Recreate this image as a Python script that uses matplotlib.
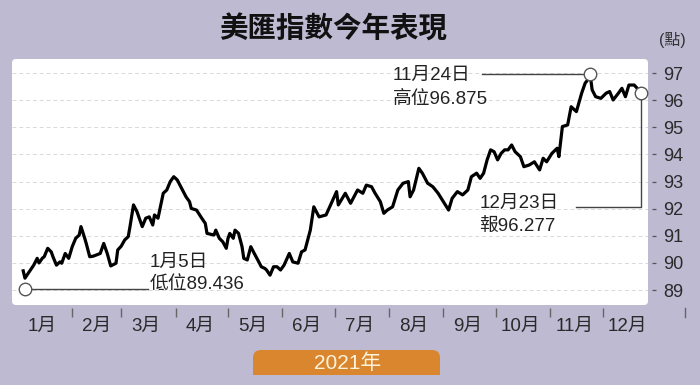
import matplotlib
matplotlib.use('Agg')
import matplotlib.pyplot as plt
import matplotlib.dates as mdates
from matplotlib.patches import FancyBboxPatch, Rectangle
from matplotlib.lines import Line2D
from matplotlib.transforms import IdentityTransform
import pandas as pd

plt.rcParams['font.family'] = ['Liberation Sans', 'Noto Sans CJK TC']

# Data (US dollar index, 2021)
dates = ['01-04', '01-05', '01-10', '01-12', '01-13', '01-15', '01-16', '01-18', '01-20', '01-21',
         '01-23', '01-25', '01-26', '01-28', '01-30', '02-01', '02-03', '02-05', '02-06', '02-08',
         '02-09', '02-11', '02-13', '02-17', '02-19', '02-21', '02-23', '02-26', '02-27', '03-01',
         '03-03', '03-05', '03-06', '03-08', '03-10', '03-13', '03-15', '03-17', '03-19', '03-20',
         '03-22', '03-25', '03-27', '03-29', '03-31', '04-02', '04-04', '04-07', '04-09', '04-10',
         '04-13', '04-16', '04-18', '04-19', '04-23', '04-24', '04-26', '04-28', '04-30', '05-01',
         '05-02', '05-04', '05-05', '05-07', '05-09', '05-10', '05-12', '05-14', '05-16', '05-18',
         '05-20', '05-22', '05-23', '05-25', '05-27', '05-29', '05-31', '06-02', '06-05', '06-07',
         '06-10', '06-12', '06-14', '06-17', '06-19', '06-22', '06-26', '06-29', '07-02', '07-03',
         '07-07', '07-10', '07-14', '07-17', '07-19', '07-22', '07-24', '07-27', '07-29', '07-31',
         '08-03', '08-06', '08-09', '08-12', '08-13', '08-15', '08-18', '08-20', '08-23', '08-26',
         '08-29', '09-01', '09-04', '09-06', '09-09', '09-12', '09-15', '09-17', '09-20', '09-22',
         '09-24', '09-26', '09-28', '09-30', '10-02', '10-04', '10-06', '10-08', '10-10', '10-12',
         '10-15', '10-17', '10-20', '10-23', '10-26', '10-28', '10-30', '11-02', '11-05', '11-06',
         '11-08', '11-11', '11-13', '11-16', '11-19', '11-21', '11-24', '11-25', '11-27', '11-30',
         '12-03', '12-05', '12-07', '12-10', '12-12', '12-14', '12-16', '12-19', '12-23']
values = [89.71, 89.44, 89.92, 90.17, 90.00, 90.18, 90.23, 90.54, 90.41, 90.23,
          89.92, 90.04, 89.99, 90.35, 90.17, 90.60, 90.91, 91.03, 91.34, 90.94,
          90.72, 90.23, 90.25, 90.35, 90.72, 90.35, 89.89, 89.99, 90.48, 90.62,
          90.85, 90.97, 91.34, 92.14, 91.89, 91.34, 91.65, 91.70, 91.40, 91.77,
          91.65, 92.57, 92.69, 93.00, 93.18, 93.06, 92.81, 92.44, 92.26, 92.01,
          91.95, 91.65, 91.46, 91.09, 91.03, 91.21, 90.91, 90.78, 90.54, 90.91,
          91.09, 90.91, 91.21, 91.09, 90.60, 90.17, 90.11, 90.60, 90.35, 90.11,
          89.86, 89.80, 89.74, 89.55, 89.86, 89.86, 89.74, 89.92, 90.35, 90.04,
          89.99, 90.41, 90.48, 91.21, 92.07, 91.70, 91.77, 92.20, 92.63, 92.14,
          92.57, 92.20, 92.69, 92.57, 92.87, 92.81, 92.57, 92.26, 91.83, 91.95,
          92.07, 92.69, 92.94, 93.00, 92.44, 92.69, 93.49, 93.31, 92.94, 92.81,
          92.57, 92.26, 91.95, 92.38, 92.63, 92.51, 92.69, 93.18, 93.31, 93.12,
          93.31, 93.80, 94.17, 94.10, 93.80, 94.04, 94.17, 94.17, 94.35, 94.10,
          93.92, 93.55, 93.61, 93.73, 93.43, 93.86, 93.73, 94.04, 94.23, 93.92,
          95.03, 95.09, 95.76, 95.58, 96.26, 96.63, 96.88, 96.38, 96.13, 96.07,
          96.26, 96.32, 96.01, 96.26, 96.44, 96.13, 96.56, 96.56, 96.28]
y_ticks = [89, 90, 91, 92, 93, 94, 95, 96, 97]
month_labels = ['1月', '2月', '3月', '4月', '5月', '6月', '7月', '8月', '9月', '10月', '11月', '12月']

title = '美匯指數今年表現'
unit = '(點)'
year_label = '2021年'
low_text = ['1月5日', '低位89.436']
high_text = ['11月24日', '高位96.875']
last_text = ['12月23日', '報96.277']

x = pd.to_datetime(['2021-' + d for d in dates])
def day(s, frac=0.0):
    return pd.Timestamp('2021-' + s) + pd.Timedelta(days=frac)

bg = '#bdbad2'
ink = '#222222'
fig = plt.figure(figsize=(7, 3.85), dpi=100, facecolor=bg)
px = IdentityTransform()

# white rounded panel behind the plot
fig.patches.append(FancyBboxPatch((12, 80), 636, 246, boxstyle='round,pad=0,rounding_size=4',
                                  transform=px, facecolor='white', edgecolor='none', zorder=0))

ax = fig.add_axes([12 / 700, 80 / 385, 636 / 700, 246 / 385])
ax.set_zorder(2)
ax.patch.set_visible(False)
for s in ax.spines.values():
    s.set_visible(False)
ax.spines['right'].set_position(('outward', 3))
ax.spines['bottom'].set_position(('outward', 2.2))

ax.plot(x, values, color='black', lw=2.3, solid_joinstyle='round', zorder=3)

ax.set_xlim(day('01-01', -3.4), day('12-27', -0.1))
ax.set_ylim(88.45, 97.52)

ax.yaxis.tick_right()
ax.set_yticks(y_ticks)
ax.tick_params(axis='y', length=3, width=0.9, color='#555555', pad=5, labelsize=13, labelcolor='#2a2a2a')
ax.grid(axis='y', color='#d9d9d9', lw=0.7, ls=(0, (4, 3)))

ax.xaxis.set_major_locator(mdates.MonthLocator(bymonth=range(2, 13)))
ax.xaxis.set_major_formatter(plt.NullFormatter())
ax.xaxis.set_minor_locator(mdates.MonthLocator(bymonthday=15))
ax.xaxis.set_minor_formatter(plt.FuncFormatter(lambda v, p: month_labels[mdates.num2date(v).month - 1]))
ax.tick_params(axis='x', which='major', length=6.5, width=1, color='#666666')
ax.tick_params(axis='x', which='minor', length=0, pad=7, labelsize=13.5, labelcolor='#2a2a2a')

# markers and call-outs
ring = dict(marker='o', ms=9, mfc='white', mec='#555555', mew=1, ls='none', zorder=6, clip_on=False)
lk = dict(color='#444444', lw=1, zorder=4, clip_on=False)
tk = dict(fontsize=13.5, color=ink, va='center', ha='left', zorder=7)

ax.plot([day('01-05'), day('03-16', 0.5)], [89.03, 89.03], **lk)
ax.plot(day('01-05'), 89.03, **ring)
ax.text(day('03-17'), 90.03, low_text[0], **tk)
ax.text(day('03-17'), 89.22, low_text[1], **tk)

ax.plot([day('09-23'), day('11-24')], [96.98, 96.98], **lk)
ax.plot(day('11-24'), 96.98, **ring)
ax.text(day('08-03'), 96.93, high_text[0], **tk)
ax.text(day('08-03'), 96.01, high_text[1], **tk)

ax.plot([day('11-16'), day('12-23'), day('12-23')], [92.06, 92.06, 96.277], **lk)
ax.plot(day('12-23'), 96.277, **ring)
ax.text(day('09-21', 0.5), 92.21, last_text[0], **tk)
ax.text(day('09-21', 0.5), 91.36, last_text[1], **tk)

# titles
fig.text(333 / 700, 1 - 30 / 385, title, fontsize=20.5, fontweight='bold', color='#111111',
         ha='center', va='center')
fig.text(672 / 700, 1 - 40 / 385, unit, fontsize=11.5, color='#333333', ha='center', va='center')

# stray tick at far right
fig.lines.append(Line2D([685, 685], [68, 77], transform=px, color='#666666', lw=1))

# orange year tab, rounded top only
orange = '#d9862e'
fig.patches.append(FancyBboxPatch((253, 10), 187, 25, boxstyle='round,pad=0,rounding_size=8',
                                  transform=px, facecolor=orange, edgecolor='none'))
fig.patches.append(Rectangle((253, 10), 187, 10, transform=px, facecolor=orange, edgecolor='none'))
fig.text(348 / 700, 22 / 385, year_label, fontsize=15, color='#fdf3dc', ha='center', va='center')

fig.savefig('out.png', dpi=100, facecolor=bg)
